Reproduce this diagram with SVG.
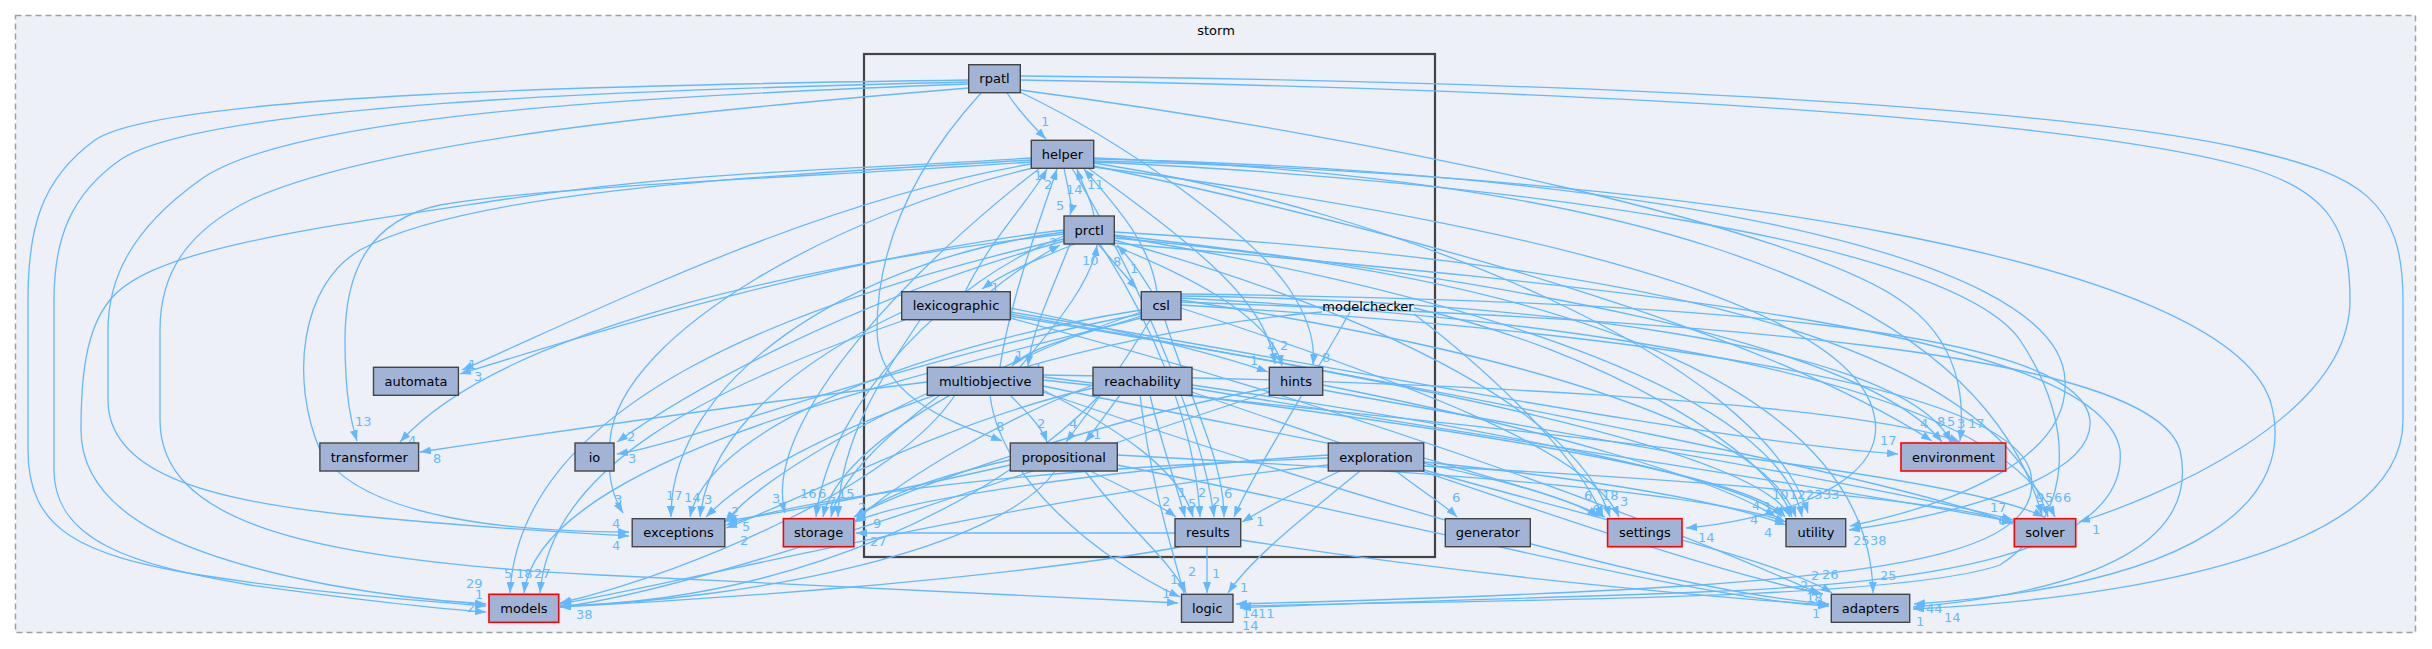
<svg xmlns="http://www.w3.org/2000/svg" width="2432" height="649" viewBox="0 0 2432 649">
<defs>
<marker id="arr" viewBox="0 0 10 10" refX="10" refY="5" markerWidth="11" markerHeight="8" markerUnits="userSpaceOnUse" orient="auto" preserveAspectRatio="none"><path d="M0,0 L10,5 L0,10 z" fill="#63b8ff"/></marker>
</defs>
<style>
.e{fill:none;stroke:#63b8ff;stroke-width:1.3;marker-end:url(#arr)}
.l{font-family:"DejaVu Sans",sans-serif;font-size:13px;fill:#63b8ff}
.n rect{fill:#a2b4d6;stroke:#444;stroke-width:1.4}
.n.r rect{stroke:#ff0000;stroke-width:1.6}
.n text,.t{font-family:"DejaVu Sans",sans-serif;font-size:13px;fill:#000;text-anchor:middle}
</style>
<rect width="2432" height="649" fill="#ffffff"/>
<g id="cluster-storm">
<rect x="15.5" y="15.5" width="2400" height="617" fill="#edf0f7" stroke="#a0a0a0" stroke-width="1.5" stroke-dasharray="6,4"/>
<text class="t" x="1216" y="34.5">storm</text>
</g>
<g id="cluster-modelchecker">
<rect x="864" y="54" width="571" height="503" fill="#edf0f7" stroke="#444" stroke-width="2.2"/>
</g>
<g id="edges">
<path class="e" d="M1007,93 C1018,110 1032,125 1046,139"/><text class="l" x="1041" y="126">1</text>
<path class="e" d="M969,80 C600,85 160,95 95,140 C40,180 28,230 28,300 L28,450 C28,530 80,555 200,575 C330,595 420,600 486,606"/><text class="l" x="466" y="588">29</text>
<path class="e" d="M969,82 C620,90 200,105 120,160 C70,195 54,240 54,300 L54,470 C54,540 130,565 250,585 C360,600 430,608 486,612"/><text class="l" x="467" y="612">2</text>
<path class="e" d="M969,84 C640,96 290,115 200,180 C130,230 108,280 108,330 L108,400 C108,470 200,500 350,515 C480,528 560,532 629,536"/><text class="l" x="612" y="550">4</text>
<path class="e" d="M969,88 C700,110 380,140 250,200 C190,230 160,270 160,330 L160,420 C160,520 300,560 600,575 C900,590 1100,598 1178,603"/><text class="l" x="1162" y="598">1</text>
<path class="e" d="M981,93 C920,160 877,240 877,330 C877,400 960,425 1002,441"/><text class="l" x="996" y="431">8</text>
<path class="e" d="M1020,92 C1120,140 1250,230 1290,290 C1310,320 1315,345 1313,365"/><text class="l" x="1322" y="362">8</text>
<path class="e" d="M1020,76 C1700,82 2100,115 2250,150 C2360,175 2403,200 2403,300 L2403,420 C2403,560 2100,600 1913,609"/><text class="l" x="1916" y="626">1</text>
<path class="e" d="M1020,80 C1700,92 2100,125 2250,168 C2330,192 2350,230 2350,300 C2350,420 2150,500 2079,522"/><text class="l" x="2092" y="534">1</text>
<path class="e" d="M1020,90 C1400,140 1800,230 1900,300 C1960,340 1965,400 1960,441"/><text class="l" x="1957" y="428">3</text>
<path class="e" d="M1064,168 C1068,190 1073,205 1070,215"/><text class="l" x="1056" y="210">5</text>
<path class="e" d="M1031,158 C850,170 700,170 500,200 C300,230 150,250 110,300 C85,330 81,380 81,430 C81,520 200,560 330,585 C400,598 450,602 486,604"/><text class="l" x="475" y="599">1</text>
<path class="e" d="M1031,162 C800,178 560,185 440,205 C370,220 345,270 345,340 C345,400 352,425 357,441"/><text class="l" x="355" y="426">13</text>
<path class="e" d="M1031,164 C820,200 620,300 462,370"/><text class="l" x="468" y="369">1</text>
<path class="e" d="M1033,168 C850,210 620,330 610,440 C606,480 615,500 623,513"/><text class="l" x="614" y="504">3</text>
<path class="e" d="M1040,168 C920,260 760,420 785,513"/><text class="l" x="772" y="503">3</text>
<path class="e" d="M1094,162 C1500,180 1950,240 2020,340 C2080,430 2070,520 2000,565 C1900,600 1500,600 1240,606"/><text class="l" x="1242" y="618">14</text>
<path class="e" d="M1094,163 C1400,210 1760,360 1808,513"/><text class="l" x="1823" y="499">33</text>
<path class="e" d="M1094,158 C1550,175 1970,260 2042,515"/><text class="l" x="2036" y="502">9</text>
<path class="e" d="M1094,166 C1400,230 1760,330 1932,441"/><text class="l" x="1920" y="428">4</text>
<path class="e" d="M1094,161 C1700,175 2220,260 2270,400 C2300,500 2200,585 1914,604"/><text class="l" x="1926" y="613">44</text>
<path class="e" d="M1072,168 C1150,300 1205,440 1214,517"/><text class="l" x="1212" y="506">2</text>
<path class="e" d="M1088,168 C1200,250 1265,300 1275,364"/><text class="l" x="1267" y="351">4</text>
<path class="e" d="M1094,167 C1500,220 1860,300 1875,420 C1885,490 1760,522 1686,528"/><text class="l" x="1698" y="542">14</text>
<path class="e" d="M1031,160 C760,176 470,190 360,250 C300,285 290,380 320,450 C360,520 520,532 629,532"/><text class="l" x="612" y="528">4</text>
<path class="e" d="M1094,159 C1620,170 2060,250 2065,380 C2070,460 1950,505 1850,526"/><text class="l" x="1853" y="545">25</text>
<path class="e" d="M1075,244 C1040,258 1005,272 982,289"/><text class="l" x="991" y="292">1</text>
<path class="e" d="M1098,244 C1112,260 1124,274 1137,289"/><text class="l" x="1130" y="273">1</text>
<path class="e" d="M1094,216 C1092,200 1082,185 1077,169"/><text class="l" x="1066" y="194">14</text>
<path class="e" d="M1070,244 C1052,290 1032,330 1028,366"/><text class="l" x="1034" y="372">1</text>
<path class="e" d="M1110,244 C1200,280 1272,320 1282,366"/><text class="l" x="1280" y="350">2</text>
<path class="e" d="M1100,244 C1150,320 1195,420 1200,517"/><text class="l" x="1198" y="497">2</text>
<path class="e" d="M1064,236 C950,280 830,400 816,517"/><text class="l" x="800" y="498">16</text>
<path class="e" d="M1064,232 C850,260 670,380 671,517"/><text class="l" x="666" y="500">17</text>
<path class="e" d="M1064,239 C800,300 520,400 510,593"/><text class="l" x="504" y="578">5</text>
<path class="e" d="M1064,241 C850,300 690,390 617,442"/><text class="l" x="627" y="441">2</text>
<path class="e" d="M1064,234 C800,265 500,330 400,442"/><text class="l" x="408" y="445">4</text>
<path class="e" d="M1064,230 C850,255 600,330 460,374"/><text class="l" x="474" y="381">3</text>
<path class="e" d="M1114,236 C1500,300 1780,400 1802,517"/><text class="l" x="1806" y="499">23</text>
<path class="e" d="M1114,232 C1600,260 1990,330 2048,517"/><text class="l" x="2045" y="502">5</text>
<path class="e" d="M1114,235 C1500,280 1860,340 1942,442"/><text class="l" x="1937" y="426">8</text>
<path class="e" d="M1114,240 C1400,320 1580,420 1610,517"/><text class="l" x="1602" y="500">18</text>
<path class="e" d="M1114,238 C1600,280 1870,400 1873,593"/><text class="l" x="1880" y="580">25</text>
<path class="e" d="M1114,243 C1600,285 2100,330 2120,450 C2130,560 1900,585 1700,592 C1500,600 1300,604 1240,608"/><text class="l" x="1258" y="618">11</text>
<path class="e" d="M1157,292 C1150,240 1110,200 1084,169"/><text class="l" x="1087" y="189">11</text>
<path class="e" d="M1152,292 C1140,272 1128,256 1117,245"/><text class="l" x="1113" y="266">8</text>
<path class="e" d="M1141,316 C1100,330 1030,345 1012,366"/><text class="l" x="1015" y="360">1</text>
<path class="e" d="M1150,320 C1120,370 1090,410 1066,442"/><text class="l" x="1069" y="428">4</text>
<path class="e" d="M1165,320 C1190,400 1224,460 1224,517"/><text class="l" x="1224" y="498">6</text>
<path class="e" d="M1141,312 C1000,360 840,440 823,517"/><text class="l" x="818" y="498">6</text>
<path class="e" d="M1141,310 C950,340 710,420 690,517"/><text class="l" x="684" y="502">14</text>
<path class="e" d="M1141,318 C900,380 540,460 524,593"/><text class="l" x="516" y="578">18</text>
<path class="e" d="M1141,314 C900,360 700,440 617,454"/><text class="l" x="628" y="463">3</text>
<path class="e" d="M1181,300 C1500,350 1760,420 1796,517"/><text class="l" x="1789" y="499">12</text>
<path class="e" d="M1181,298 C1600,320 1990,380 2055,517"/><text class="l" x="2054" y="502">6</text>
<path class="e" d="M1181,296 C1500,300 1900,340 1951,442"/><text class="l" x="1947" y="426">5</text>
<path class="e" d="M1181,308 C1400,380 1590,450 1619,517"/><text class="l" x="1620" y="506">3</text>
<path class="e" d="M1181,302 C1700,320 2150,350 2180,450 C2200,540 2100,590 1913,607"/><text class="l" x="1944" y="622">14</text>
<path class="e" d="M1181,305 C1600,330 2000,380 2030,470 C2050,550 1900,570 1700,585 C1500,598 1300,602 1236,604"/><text class="l" x="1242" y="630">14</text>
<path class="e" d="M1181,294 C1700,300 2080,330 2090,420 C2095,480 1950,515 1849,530"/><text class="l" x="1870" y="545">38</text>
<path class="e" d="M965,292 C990,240 1030,200 1047,169"/><text class="l" x="1034" y="180">1</text>
<path class="e" d="M990,292 C1010,275 1040,256 1060,245"/><text class="l" x="1049" y="247">2</text>
<path class="e" d="M1010,308 C1120,330 1220,355 1268,372"/><text class="l" x="1250" y="365">1</text>
<path class="e" d="M1010,312 C1300,360 1700,440 1898,454"/><text class="l" x="1880" y="445">17</text>
<path class="e" d="M920,320 C880,380 840,440 838,517"/><text class="l" x="838" y="498">15</text>
<path class="e" d="M902,312 C800,360 710,430 700,517"/><text class="l" x="704" y="504">3</text>
<path class="e" d="M905,320 C700,390 550,470 540,593"/><text class="l" x="534" y="578">27</text>
<path class="e" d="M1010,316 C1400,380 1760,450 1790,517"/><text class="l" x="1772" y="499">10</text>
<path class="e" d="M1010,314 C1500,400 1900,480 2013,524"/><text class="l" x="1990" y="512">17</text>
<path class="e" d="M1010,318 C1400,420 1700,540 1820,594"/><text class="l" x="1800" y="590">2</text>
<path class="e" d="M1000,367 C1010,300 1040,220 1057,169"/><text class="l" x="1044" y="189">2</text>
<path class="e" d="M1020,367 C1060,320 1092,280 1097,245"/><text class="l" x="1082" y="265">10</text>
<path class="e" d="M1010,395 C1030,415 1042,428 1047,442"/><text class="l" x="1037" y="428">2</text>
<path class="e" d="M1043,390 C1120,430 1180,470 1193,517"/><text class="l" x="1188" y="508">5</text>
<path class="e" d="M927,382 C700,410 500,440 420,452"/><text class="l" x="433" y="463">8</text>
<path class="e" d="M940,395 C880,440 840,480 831,517"/><text class="l" x="828" y="506">7</text>
<path class="e" d="M930,392 C850,430 760,480 725,522"/><text class="l" x="731" y="516">2</text>
<path class="e" d="M955,395 C900,480 700,570 560,603"/><text class="l" x="566" y="607">1</text>
<path class="e" d="M990,395 C1000,480 1100,560 1180,597"/><text class="l" x="1170" y="584">1</text>
<path class="e" d="M1043,377 C1400,420 1750,470 1785,517"/><text class="l" x="1750" y="524">4</text>
<path class="e" d="M1043,380 C1500,430 1950,470 2044,517"/><text class="l" x="2063" y="502">6</text>
<path class="e" d="M1043,375 C1400,380 1850,400 1960,442"/><text class="l" x="1968" y="428">17</text>
<path class="e" d="M1043,386 C1300,440 1550,480 1598,517"/><text class="l" x="1584" y="500">6</text>
<path class="e" d="M1043,392 C1300,480 1650,590 1829,604"/><text class="l" x="1806" y="602">18</text>
<path class="e" d="M1120,395 C1105,415 1095,430 1085,442"/><text class="l" x="1093" y="439">1</text>
<path class="e" d="M1150,395 C1160,440 1178,490 1185,517"/><text class="l" x="1178" y="497">1</text>
<path class="e" d="M1093,385 C1000,420 900,480 855,521"/><text class="l" x="873" y="528">9</text>
<path class="e" d="M1093,388 C950,420 800,500 726,528"/><text class="l" x="742" y="531">5</text>
<path class="e" d="M1100,395 C1000,500 800,600 560,606"/><text class="l" x="576" y="619">38</text>
<path class="e" d="M1192,385 C1500,430 1750,480 1782,517"/><text class="l" x="1762" y="511">3</text>
<path class="e" d="M1192,388 C1500,440 1850,490 2013,522"/><text class="l" x="1998" y="525">6</text>
<path class="e" d="M1192,392 C1450,480 1700,570 1823,594"/><text class="l" x="1811" y="580">2</text>
<path class="e" d="M1140,395 C1150,480 1172,550 1184,593"/><text class="l" x="1188" y="576">2</text>
<path class="e" d="M1323,385 C1550,430 1720,480 1776,517"/><text class="l" x="1752" y="510">4</text>
<path class="e" d="M1269,388 C1100,420 900,490 854,517"/><text class="l" x="858" y="512">2</text>
<path class="e" d="M1269,392 C1000,480 700,590 560,607"/>
<path class="e" d="M1323,390 C1600,440 1900,490 2013,520"/>
<path class="e" d="M1090,471 C1130,490 1160,505 1176,517"/><text class="l" x="1162" y="506">2</text>
<path class="e" d="M1085,471 C1130,530 1170,560 1186,593"/>
<path class="e" d="M1055,471 C1000,550 750,600 560,606"/>
<path class="e" d="M1010,460 C920,480 880,500 855,517"/>
<path class="e" d="M1010,465 C900,490 800,510 726,521"/><text class="l" x="740" y="545">2</text>
<path class="e" d="M1117,455 C1400,470 1700,490 1786,522"/>
<path class="e" d="M1117,465 C1400,520 1700,600 1829,606"/><text class="l" x="1812" y="618">1</text>
<path class="e" d="M1396,471 C1420,490 1445,505 1457,517"/><text class="l" x="1452" y="502">6</text>
<path class="e" d="M1340,471 C1300,490 1270,505 1242,522"/><text class="l" x="1256" y="526">1</text>
<path class="e" d="M1360,471 C1300,520 1250,560 1228,593"/><text class="l" x="1240" y="592">1</text>
<path class="e" d="M1424,458 C1500,480 1570,500 1605,517"/><text class="l" x="1592" y="514">6</text>
<path class="e" d="M1424,462 C1600,480 1720,500 1786,525"/><text class="l" x="1764" y="537">4</text>
<path class="e" d="M1424,466 C1700,480 1950,500 2013,523"/>
<path class="e" d="M1424,470 C1600,520 1780,560 1832,593"/><text class="l" x="1822" y="579">26</text>
<path class="e" d="M1328,465 C1000,500 700,580 560,604"/>
<path class="e" d="M1328,455 C1100,470 900,500 855,522"/>
<path class="e" d="M1328,458 C1000,470 800,500 726,525"/>
<path class="e" d="M1175,533 L856,533"/><text class="l" x="870" y="546">27</text>
<path class="e" d="M1207,547 L1207,593"/><text class="l" x="1212" y="578">1</text>
<path class="e" d="M1180,547 C1000,580 700,600 560,607"/>
<path class="e" d="M1241,540 C1500,580 1750,600 1829,605"/>
<path class="e" d="M1350,312 C1300,400 1250,480 1234,517"/>
<path class="e" d="M1414,308 C1600,350 1770,450 1792,517"/>
<path class="e" d="M1322,312 C1100,330 800,420 706,517"/>
<path class="e" d="M1414,314 C1500,380 1580,460 1603,517"/>
</g>
<g id="node-rpatl" class="n"><rect x="968.7" y="64.7" width="51.6" height="28"/><text x="994.5" y="83.3">rpatl</text></g>
<g id="node-helper" class="n"><rect x="1031.3" y="140.3" width="62.4" height="28"/><text x="1062.5" y="159">helper</text></g>
<g id="node-prctl" class="n"><rect x="1064" y="216" width="50.3" height="28"/><text x="1089.2" y="234.7">prctl</text></g>
<g id="node-lexicographic" class="n"><rect x="901.7" y="291.7" width="108.6" height="28"/><text x="956" y="310.4">lexicographic</text></g>
<g id="node-csl" class="n"><rect x="1141.3" y="291.7" width="39.7" height="28"/><text x="1161.2" y="310.4">csl</text></g>
<g id="node-modelchecker"><text class="t" x="1368" y="310.5">modelchecker</text></g>
<g id="node-multiobjective" class="n"><rect x="927.3" y="367.3" width="115.7" height="28"/><text x="985.2" y="386">multiobjective</text></g>
<g id="node-reachability" class="n"><rect x="1093" y="367.3" width="99" height="28"/><text x="1142.5" y="386">reachability</text></g>
<g id="node-hints" class="n"><rect x="1269.3" y="367.3" width="53.4" height="28"/><text x="1296" y="386">hints</text></g>
<g id="node-propositional" class="n"><rect x="1010.3" y="443" width="107" height="28"/><text x="1063.8" y="461.7">propositional</text></g>
<g id="node-exploration" class="n"><rect x="1328.3" y="443" width="95.4" height="28"/><text x="1376" y="461.7">exploration</text></g>
<g id="node-results" class="n"><rect x="1175" y="518.7" width="65.7" height="28"/><text x="1207.9" y="537.4">results</text></g>
<g id="node-automata" class="n"><rect x="373.5" y="367.3" width="84.9" height="28"/><text x="416" y="386">automata</text></g>
<g id="node-transformer" class="n"><rect x="319.9" y="443" width="98.7" height="28"/><text x="369.3" y="461.7">transformer</text></g>
<g id="node-io" class="n"><rect x="575" y="443" width="39" height="28"/><text x="594.5" y="461.7">io</text></g>
<g id="node-exceptions" class="n"><rect x="632.2" y="518.7" width="92.6" height="28"/><text x="678.5" y="537.4">exceptions</text></g>
<g id="node-storage" class="n r"><rect x="783.4" y="518.7" width="70.4" height="28"/><text x="818.6" y="537.4">storage</text></g>
<g id="node-models" class="n r"><rect x="489" y="594.3" width="69.7" height="28"/><text x="523.9" y="613">models</text></g>
<g id="node-logic" class="n"><rect x="1181.5" y="594.3" width="51.5" height="28"/><text x="1207.3" y="613">logic</text></g>
<g id="node-generator" class="n"><rect x="1445.3" y="518.7" width="85" height="28"/><text x="1487.8" y="537.4">generator</text></g>
<g id="node-settings" class="n r"><rect x="1607.6" y="518.7" width="74.4" height="28"/><text x="1644.8" y="537.4">settings</text></g>
<g id="node-utility" class="n"><rect x="1786" y="518.7" width="59.7" height="28"/><text x="1815.9" y="537.4">utility</text></g>
<g id="node-solver" class="n r"><rect x="2014.3" y="518.7" width="61.4" height="28"/><text x="2045" y="537.4">solver</text></g>
<g id="node-environment" class="n r"><rect x="1901" y="443" width="104.7" height="28"/><text x="1953.4" y="461.7">environment</text></g>
<g id="node-adapters" class="n"><rect x="1831.3" y="594.3" width="78.4" height="28"/><text x="1870.5" y="613">adapters</text></g>
</svg>
